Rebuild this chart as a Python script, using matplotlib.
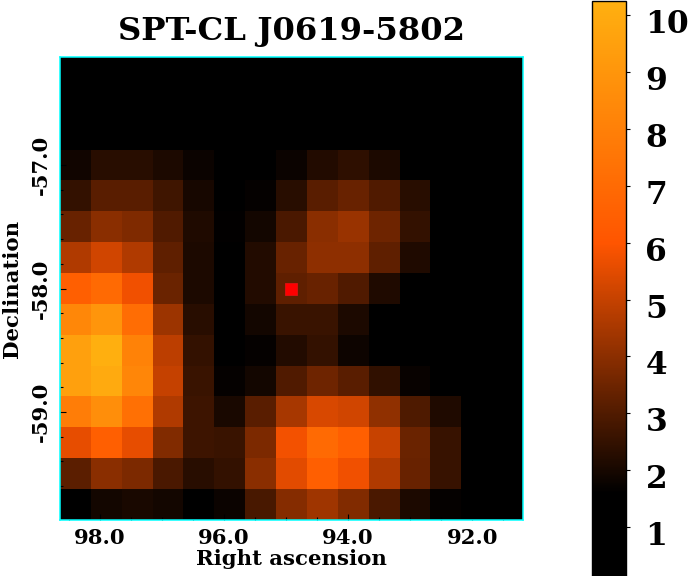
import numpy as np
import matplotlib
matplotlib.use("Agg")
import matplotlib.pyplot as plt
from matplotlib.colors import LinearSegmentedColormap, Normalize
from matplotlib.ticker import MultipleLocator, FormatStrFormatter
from matplotlib.transforms import ScaledTranslation

title = "SPT-CL J0619-5802"
xlabel = "Right ascension"
ylabel = "Declination"
cbar_ticks = [1, 2, 3, 4, 5, 6, 7, 8, 9, 10]
cluster_ra = 94.92
cluster_dec = -58.0

row00 = [1.0] * 15
row01 = [1.0] * 15
row02 = [1.0] * 15
row03 = [1.9, 2.3, 2.3, 2.1, 1.8, 1.4, 1.4, 1.8, 2.2, 2.4, 2.1, 1.2, 1.0, 1.0, 1.0]
row04 = [2.5, 3.15, 3.15, 2.7, 2.0, 1.5, 1.7, 2.3, 3.15, 3.4, 3.0, 2.3, 1.2, 1.0, 1.0]
row05 = [3.4, 4.0, 3.8, 3.0, 2.15, 1.65, 1.95, 2.9, 4.0, 4.25, 3.5, 2.5, 1.2, 1.0, 1.0]
row06 = [4.65, 5.2, 4.65, 3.25, 2.1, 1.6, 2.2, 3.4, 4.05, 4.05, 3.25, 2.15, 1.2, 1.0, 1.0]
row07 = [6.5, 7.0, 5.75, 3.45, 2.1, 1.6, 2.2, 3.25, 3.4, 3.0, 2.15, 1.2, 1.0, 1.0, 1.0]
row08 = [8.35, 9.0, 7.15, 4.3, 2.3, 1.6, 1.95, 2.6, 2.6, 2.1, 1.4, 1.2, 1.0, 1.0, 1.0]
row09 = [9.5, 10.2, 8.1, 4.85, 2.5, 1.6, 1.7, 2.2, 2.5, 1.85, 1.4, 1.2, 1.0, 1.0, 1.0]
row10 = [9.5, 10.0, 8.3, 5.0, 2.6, 1.7, 1.95, 3.0, 3.5, 3.15, 2.45, 1.75, 1.2, 1.0, 1.0]
row11 = [7.9, 8.7, 7.3, 4.65, 2.65, 2.05, 3.15, 4.5, 5.35, 5.2, 4.1, 2.95, 2.15, 1.2, 1.0]
row12 = [5.6, 6.5, 5.6, 3.85, 2.65, 2.6, 3.75, 5.8, 7.0, 6.5, 5.05, 3.45, 2.55, 1.2, 1.0]
row13 = [3.2, 4.0, 3.75, 2.9, 2.3, 2.5, 4.0, 5.5, 6.5, 5.75, 4.65, 3.4, 2.55, 1.2, 1.0]
row14 = [1.5, 1.95, 2.05, 1.95, 1.5, 1.8, 2.85, 3.9, 4.35, 3.85, 2.9, 2.1, 1.7, 1.2, 1.0]
rows = [row00, row01, row02, row03, row04, row05, row06, row07,
        row08, row09, row10, row11, row12, row13, row14]

plt.rcParams["font.family"] = "DejaVu Serif"
plt.rcParams["font.weight"] = "bold"

W, H = 689, 576
fig = plt.figure(figsize=(W / 100, H / 100), dpi=100)
ax = fig.add_axes([60 / W, 1 - 520 / H, 463 / W, 463 / H])

vmin, vmax = 0.14, 10.25
def pos(v):
    return (v - vmin) / (vmax - vmin)
cmap = LinearSegmentedColormap.from_list(
    "heat",
    [(0.0, "#000000"), (pos(1.6), "#000000"), (pos(6.0), "#ff5500"), (1.0, "#ffb010")],
    N=512,
)
norm = Normalize(vmin, vmax)
extent = [98.645, 91.18, -59.875, -56.125]
im = ax.imshow(np.array(rows), cmap=cmap, norm=norm, extent=extent,
               origin="upper", aspect="auto", interpolation="nearest")
ax.plot([cluster_ra], [cluster_dec], marker="s", ms=9, mfc="#ff0000", mec="#e01010",
        mew=0.6, ls="none")
ax.set_xlim(extent[0], extent[1])
ax.set_ylim(extent[2], extent[3])

for s in ax.spines.values():
    s.set_color("cyan")
    s.set_linewidth(1.1)

ax.xaxis.set_major_locator(MultipleLocator(2))
ax.xaxis.set_minor_locator(MultipleLocator(0.5))
ax.yaxis.set_major_locator(MultipleLocator(1))
ax.yaxis.set_minor_locator(MultipleLocator(0.2))
ax.xaxis.set_major_formatter(FormatStrFormatter("%.1f"))
ax.yaxis.set_major_formatter(FormatStrFormatter("%.1f"))
ax.tick_params(axis="both", which="major", direction="in", length=4.5, width=0.8,
               color="black", labelsize=15.2, pad=5.7)
ax.tick_params(axis="both", which="minor", direction="in", length=2.2, width=0.8, color="black")
ax.tick_params(axis="y", which="major", pad=6.5)
plt.setp(ax.get_yticklabels(), rotation=90, va="center")

ax.set_title(title, fontsize=23.2, fontweight="bold", pad=12.2)
ax.set_xlabel(xlabel, fontsize=15.3, fontweight="bold", labelpad=0.5)
ax.set_ylabel(ylabel, fontsize=15.3, fontweight="bold", labelpad=6.5)

cax = fig.add_axes([592 / W, 0, 34 / W, 1 - 1 / H])
cb = fig.colorbar(im, cax=cax)
cb.set_ticks(cbar_ticks)
cb.ax.tick_params(labelsize=22.5, length=3, width=0.8, pad=11)
cb.ax.minorticks_off()
cb.outline.set_linewidth(1.0)
shift = ScaledTranslation(0, -6 / 100, fig.dpi_scale_trans)
for lab in cb.ax.get_yticklabels():
    lab.set_transform(lab.get_transform() + shift)

fig.savefig("out.png", dpi=100)
